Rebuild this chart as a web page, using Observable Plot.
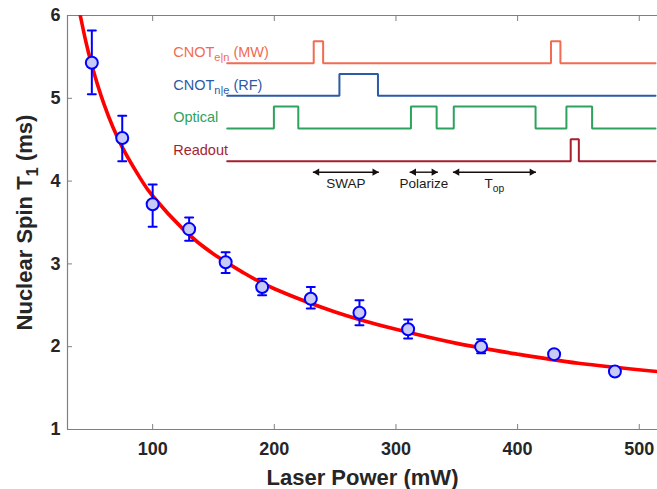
<!DOCTYPE html>
<html><head><meta charset="utf-8">
<script src="https://cdn.jsdelivr.net/npm/d3@7"></script>
<script src="https://cdn.jsdelivr.net/npm/@observablehq/plot@0.6"></script>
<style>
body{margin:0;background:#fff;}
#wrap{position:relative;width:657px;height:489px;overflow:hidden;}
#wrap svg{position:absolute;left:0;top:0;}
</style></head><body><div id="wrap"></div>
<script>
// Measured data (laser power in mW, nuclear spin T1 in ms)
const power  = [50, 75, 100, 130, 160, 190, 230, 270, 310, 370, 430, 480];
const t1     = [5.43, 4.52, 3.72, 3.42, 3.02, 2.72, 2.58, 2.41, 2.21, 2.00, 1.91, 1.70];
const errLow = [5.05, 4.24, 3.45, 3.28, 2.89, 2.62, 2.46, 2.26, 2.10, 1.92, 1.88, 1.68];
const errHigh= [5.82, 4.79, 3.96, 3.56, 3.14, 2.82, 2.72, 2.56, 2.33, 2.09, 1.94, 1.72];

// Fit curve
const fitPower = [40.5, 45, 50, 60, 75, 90, 100, 125, 150, 175, 200, 250, 300, 350, 400, 450, 515];
const fitT1    = [6.00, 5.69, 5.40, 4.93, 4.41, 4.03, 3.82, 3.42, 3.12, 2.89, 2.70, 2.42, 2.21, 2.04, 1.91, 1.80, 1.70];

const xTicks = [100, 200, 300, 400, 500];
const yTicks = [1, 2, 3, 4, 5, 6];
const xLabel = "Laser Power (mW)";
const yLabel = "Nuclear Spin T_{1} (ms)";

// Pulse sequence inset (time in arbitrary units, 0..100)
const seqStart = 0, seqEnd = 100;
const channelNames  = ["CNOT_{e|n} (MW)", "CNOT_{n|e} (RF)", "Optical", "Readout"];
const channelColors = ["#f26b52", "#2c5aa6", "#2ea25e", "#a51f2f"];
const mwPulseStart = [20.2, 75.6],              mwPulseEnd = [22.4, 77.8];
const rfPulseStart = [26.2],                    rfPulseEnd = [35.2];
const opticalPulseStart = [10.9, 42.9, 52.9, 79.2], opticalPulseEnd = [16.6, 48.9, 72.0, 85.2];
const readoutPulseStart = [80.2],               readoutPulseEnd = [82.1];
const intervalNames = ["SWAP", "Polarize", "T_{op}"];
const intervalStart = [20.0, 42.6, 52.7];
const intervalEnd   = [35.4, 49.2, 72.1];

const FONT = '"Liberation Sans", Arial, Helvetica, sans-serif';
const AX = "#808080";
const TXT = "#262626";

const pts = power.map((p, i) => ({p, t: t1[i], lo: errLow[i], hi: errHigh[i]}));
const fit = fitPower.map((p, i) => ({p, t: fitT1[i]}));
const cap = {draw(ctx, l) { ctx.moveTo(0, 0); ctx.lineTo(0, -l); }};

const main = Plot.plot({
  width: 657, height: 489,
  marginLeft: 67, marginRight: 0, marginTop: 15, marginBottom: 60,
  style: {fontFamily: FONT, background: "transparent", overflow: "visible"},
  x: {domain: [30, 515], label: null},
  y: {domain: [1, 6], label: null},
  marks: [
    Plot.ruleY([1, 6], {stroke: AX, strokeWidth: 1.2}),
    Plot.ruleX([30], {stroke: AX, strokeWidth: 1.2}),
    Plot.axisX(xTicks, {anchor: "bottom", tickSize: -5, tickFormat: () => "", stroke: AX, label: null}),
    Plot.axisX(xTicks, {anchor: "top", tickSize: -5, tickFormat: () => "", stroke: AX, label: null}),
    Plot.axisY(yTicks, {anchor: "left", tickSize: -5, tickFormat: () => "", stroke: AX, label: null}),
    Plot.axisX(xTicks, {anchor: "bottom", tickSize: 0, tickPadding: 13, tickFormat: d3.format("d"), fontSize: 18, fontWeight: "bold", fill: TXT, label: null}),
    Plot.axisY(yTicks, {anchor: "left", tickSize: 0, tickPadding: 7, tickFormat: d3.format("d"), fontSize: 18, fontWeight: "bold", fill: TXT, label: null}),
    Plot.line(fit, {x: "p", y: "t", stroke: "#ff0000", strokeWidth: 3.6, curve: "natural", clip: true}),
    Plot.ruleX(pts, {x: "p", y1: "lo", y2: "hi", stroke: "#0000ff", strokeWidth: 2}),
    Plot.vector(pts, {x: "p", y: "hi", length: 8, rotate: 90, anchor: "middle", shape: cap, stroke: "#0000ff", strokeWidth: 2}),
    Plot.vector(pts, {x: "p", y: "lo", length: 8, rotate: 90, anchor: "middle", shape: cap, stroke: "#0000ff", strokeWidth: 2}),
    Plot.dot(pts, {x: "p", y: "t", r: 6, fill: "#c9cbf7", stroke: "#0000ff", strokeWidth: 2}),
    Plot.text([xLabel], {frameAnchor: "bottom", dy: 48, textAnchor: "middle", lineAnchor: "middle", fontSize: 22, fontWeight: "bold", fill: TXT}),
    Plot.text([yLabel], {frameAnchor: "left", dx: -43, rotate: -90, textAnchor: "middle", lineAnchor: "middle", fontSize: 22, fontWeight: "bold", fill: TXT})
  ]
});

// Build step traces for the inset
const pulseStarts = [mwPulseStart, rfPulseStart, opticalPulseStart, readoutPulseStart];
const pulseEnds   = [mwPulseEnd, rfPulseEnd, opticalPulseEnd, readoutPulseEnd];
const HIGH = 0.673;
function trace(i) {
  const base = -i, high = -i + HIGH;
  const out = [{t: seqStart, v: base}];
  pulseStarts[i].forEach((s, k) => {
    const e = pulseEnds[i][k];
    out.push({t: s, v: base}, {t: s, v: high}, {t: e, v: high}, {t: e, v: base});
  });
  out.push({t: seqEnd, v: base});
  return out;
}
const intervals = intervalNames.map((name, i) => ({name, s: intervalStart[i], e: intervalEnd[i]}));
const readoutRow = -(channelNames.length - 1);

const inset = Plot.plot({
  width: 657, height: 489,
  style: {fontFamily: FONT, background: "transparent", overflow: "visible"},
  x: {domain: [seqStart, seqEnd], range: [226.7, 655], axis: null},
  y: {domain: [-3, 0], range: [160.7, 62.7], axis: null},
  marks: [
    ...channelNames.map((name, i) => Plot.line(trace(i), {x: "t", y: "v", stroke: channelColors[i], strokeWidth: 2, strokeLinejoin: "miter"})),
    ...channelNames.map((name, i) => Plot.text([name], {x: () => seqStart, y: () => -i, dx: -54, dy: -10.8, textAnchor: "start", fontSize: 14.5, fill: channelColors[i]})),
    Plot.link(intervals, {x1: "s", x2: "e", y1: () => readoutRow, y2: () => readoutRow, dy: 11, stroke: "#111", strokeWidth: 1.4}),
    Plot.dot(intervals, {x: "e", y: () => readoutRow, dy: 11, dx: -4.2, symbol: "triangle2", rotate: 90, r: 3.5, fill: "#111"}),
    Plot.dot(intervals, {x: "s", y: () => readoutRow, dy: 11, dx: 4.2, symbol: "triangle2", rotate: -90, r: 3.5, fill: "#111"}),
    Plot.text(intervals, {x: d => (d.s + d.e) / 2, y: () => readoutRow, dy: 22.6, text: "name", fontSize: 13.5, fill: "#1a1a1a"})
  ]
});

// subscripts: "a_{b}c"
function applySub(svg) {
  svg.querySelectorAll("text").forEach(el => {
    const txt = el.textContent;
    const m = /^(.*?)_\{(.+?)\}(.*)$/.exec(txt);
    if (!m) return;
    const fs = parseFloat(getComputedStyle(el).fontSize) || 14;
    const ns = "http://www.w3.org/2000/svg";
    el.textContent = "";
    const a = document.createElementNS(ns, "tspan"); a.textContent = m[1];
    const b = document.createElementNS(ns, "tspan"); b.textContent = m[2];
    b.setAttribute("font-size", (fs * 0.76).toFixed(1));
    b.setAttribute("dy", (fs * 0.28).toFixed(1));
    const c = document.createElementNS(ns, "tspan"); c.textContent = m[3];
    c.setAttribute("dy", (-fs * 0.28).toFixed(1));
    el.append(a, b, c);
  });
}
const wrap = document.getElementById("wrap");
wrap.append(main, inset);
applySub(main); applySub(inset);
</script></body></html>
